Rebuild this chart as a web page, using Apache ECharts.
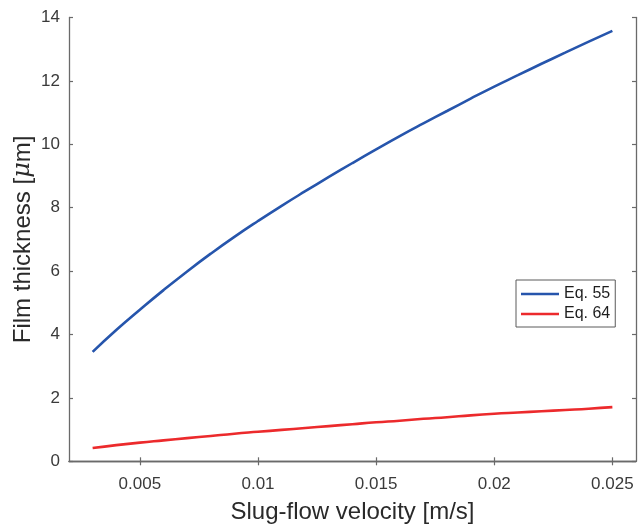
<!DOCTYPE html>
<html>
<head>
<meta charset="utf-8">
<script src="https://cdn.jsdelivr.net/npm/echarts@6/dist/echarts.min.js"></script>
<style>
  html, body { margin: 0; padding: 0; background: #fff; }
  #chart { width: 638px; height: 526px; }
</style>
</head>
<body>
<div id="chart"></div>
<script>
// Slug-flow velocity [m/s]
const velocity = [0.003, 0.004, 0.005, 0.006, 0.007, 0.008, 0.009, 0.010, 0.011, 0.012, 0.013, 0.014,
                  0.015, 0.016, 0.017, 0.018, 0.019, 0.020, 0.021, 0.022, 0.023, 0.024, 0.025];
// Film thickness [µm], Eq. 55
const eq55 = [3.45, 4.14, 4.78, 5.40, 5.99, 6.55, 7.08, 7.58, 8.06, 8.52, 8.97, 9.41,
              9.84, 10.26, 10.66, 11.05, 11.44, 11.82, 12.18, 12.54, 12.89, 13.24, 13.58];
// Film thickness [µm], Eq. 64
const eq64 = [0.42, 0.51, 0.59, 0.66, 0.73, 0.80, 0.87, 0.93, 0.99, 1.05, 1.11, 1.17,
              1.23, 1.28, 1.34, 1.39, 1.45, 1.50, 1.54, 1.58, 1.62, 1.66, 1.71];
const xTicks = [0.005, 0.01, 0.015, 0.02, 0.025];
const yTicks = [0, 2, 4, 6, 8, 10, 12, 14];

const FONT = '"Liberation Sans", Arial, Helvetica, sans-serif';
const AXIS_COLOR = '#6a6a6a';
const LABEL_COLOR = '#3a3a3a';

const pairs = ys => velocity.map((v, i) => [v, ys[i]]);

const xBase = {
  type: 'value', min: 0.002, max: 0.026,
  axisLine: { show: true, lineStyle: { color: AXIS_COLOR, width: 1.3 } },
  axisTick: { show: true, inside: true, length: 4, customValues: xTicks,
              lineStyle: { color: AXIS_COLOR, width: 1.2 } },
  splitLine: { show: false }
};
const yBase = {
  type: 'value', min: 0, max: 14, interval: 2,
  axisLine: { show: true, lineStyle: { color: AXIS_COLOR, width: 1.3 } },
  axisTick: { show: true, inside: true, length: 4, customValues: yTicks,
              lineStyle: { color: AXIS_COLOR, width: 1.2 } },
  splitLine: { show: false }
};

const chart = echarts.init(document.getElementById('chart'), null, { renderer: 'canvas' });
chart.setOption({
  animation: false,
  backgroundColor: '#ffffff',
  textStyle: { fontFamily: FONT },
  grid: { left: 69, right: 2, top: 17.5, bottom: 64.7, containLabel: false, outerBoundsMode: 'none' },
  xAxis: [
    Object.assign({}, xBase, {
      position: 'bottom',
      axisLabel: { show: true, customValues: xTicks, margin: 15, fontSize: 17,
                   color: LABEL_COLOR, fontFamily: FONT },
      name: 'Slug-flow velocity [m/s]',
      nameLocation: 'middle', nameGap: 39, nameMoveOverlap: false,
      nameTextStyle: { fontSize: 24, color: '#2a2a2a', fontFamily: FONT }
    }),
    Object.assign({}, xBase, { position: 'top', axisLabel: { show: false } })
  ],
  yAxis: [
    Object.assign({}, yBase, {
      position: 'left',
      axisLabel: { show: true, margin: 9, fontSize: 17, color: LABEL_COLOR, fontFamily: FONT },
      name: 'Film thickness [{mu|μ}m]',
      nameLocation: 'middle', nameGap: 34, nameMoveOverlap: false,
      nameTextStyle: {
        fontSize: 24, color: '#2a2a2a', fontFamily: FONT,
        rich: { mu: { fontSize: 24, fontStyle: 'italic', color: '#2a2a2a', fontFamily: '"DejaVu Serif", serif' } }
      }
    }),
    Object.assign({}, yBase, { position: 'right', axisLabel: { show: false } })
  ],
  legend: {
    orient: 'vertical', left: 516, top: 280,
    padding: [6, 5, 5, 5], itemGap: 4, itemWidth: 38, itemHeight: 2.6,
    icon: 'rect',
    backgroundColor: '#fff', borderColor: '#5a5a5a', borderWidth: 1, borderRadius: 0,
    textStyle: { fontSize: 16, color: '#1e1e1e', fontFamily: FONT },
    data: ['Eq. 55', 'Eq. 64']
  },
  series: [
    { name: 'Eq. 55', type: 'line', data: pairs(eq55), symbol: 'none', smooth: true,
      xAxisIndex: 0, yAxisIndex: 0,
      lineStyle: { color: '#2655ac', width: 2.6 }, itemStyle: { color: '#2655ac' } },
    { name: 'Eq. 64', type: 'line', data: pairs(eq64), symbol: 'none', smooth: true,
      xAxisIndex: 0, yAxisIndex: 0,
      lineStyle: { color: '#ec2a2c', width: 2.6 }, itemStyle: { color: '#ec2a2c' } }
  ]
});
</script>
</body>
</html>
